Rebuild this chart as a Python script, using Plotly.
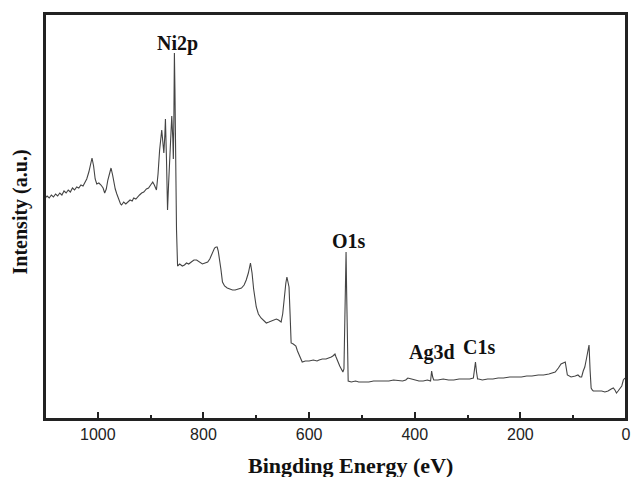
import plotly.graph_objects as go

energy = [1100,1096,1092,1088,1084,1080,1076,1072,1068,1064,1060,1056,1052,1048,1044,1040,1036,1032,1028,1025,
          1021,1017,1014,1011,1008,1005,1002,998,994,990,987,984,981,978,975,972,970,967,964,960,957,955,
          951,947,943,939,935,932,928,924,921,917,913,908,904,900,896,893,889,886,883,879,877,875,873,872,
          870,868,866,864,862,860,858,857,856,855,854,853,851,849,
          845,840,836,832,828,823,818,813,808,802,797,792,788,785,781,779,776,774,772,770,767,764,760,755,
          750,745,740,735,728,723,719,715,711,708,705,700,696,691,686,681,676,672,667,662,658,653,650,647,
          644,642,640,638,636,634,630,625,622,619,616,613,607,600,592,585,581,575,568,562,558,555,551,549,
          547,544,542,539,536,534,532,530,529,528,527,526,520,512,506,498,487,478,468,459,449,440,430,423,
          417,413,406,399,392,384,376,370,368,366,364,356,346,336,326,316,304,296,289,287,285,283,281,279,
          272,262,252,242,232,220,210,198,188,178,166,156,146,134,128,123,119,115,111,108,104,96,91,87,84,
          81,78,75,72,70,68,66,64,62,58,53,46,40,34,28,24,21,18,15,11,8,5,2,0]
intensity = [221,223,221,224,222,225,223,226,224,228,226,229,227,231,229,232,231,234,233,236,
             240,247,255,261,253,240,235,236,234,231,226,230,239,246,251,244,237,230,225,219,215,214,
             217,215,217,219,218,221,220,223,224,226,227,230,231,234,237,234,229,245,269,289,275,266,285,300,
             260,209,235,259,285,303,280,260,300,366,330,269,189,153,
             155,153,154,156,155,157,159,159,157,155,156,157,160,164,169,171,172,172,168,162,150,137,133,131,
             130,129,129,130,131,134,139,146,156,146,130,112,105,101,98,96,97,98,99,100,99,97,105,122,
             136,142,138,132,105,76,75,73,68,64,60,57,58,58,59,58,59,60,60,61,62,63,65,62,
             59,56,53,50,47,50,109,167,130,89,55,38,37,38,37,37,37,38,38,38,38,39,38,38,
             39,41,40,39,38,38,39,38,48,42,39,39,40,39,39,40,40,40,41,47,57,47,40,
             40,39,40,40,41,41,42,42,42,43,43,44,44,45,47,51,55,56,57,44,43,42,43,44,42,
             42,48,52,60,69,74,49,31,29,28,28,28,28,27,28,30,31,29,26,28,31,33,39,41]

tick_values = [1000, 800, 600, 400, 200, 0]
tick_labels = ["1000", "800", "600", "400", "200", "0"]

peak_labels = ["Ni2p", "O1s", "Ag3d", "C1s"]
label_x = [850, 524, 368, 278]
label_y = [376, 178, 67, 72]

fig = go.Figure()
fig.add_trace(go.Scatter(x=energy, y=intensity, mode="lines",
                         line=dict(color="#444444", width=1.1), showlegend=False,
                         hoverinfo="skip", cliponaxis=True))

for t, xx, yy in zip(peak_labels, label_x, label_y):
    fig.add_annotation(x=xx, y=yy, text="<b>" + t + "</b>", showarrow=False,
                       font=dict(family="Liberation Serif", size=20, color="#111"),
                       xanchor="center", yanchor="middle")

fig.add_annotation(xref="paper", yref="paper", x=0.525, y=-0.115, text="<b>Bingding Energy (eV)</b>",
                   showarrow=False, font=dict(family="Liberation Serif", size=22, color="#111"),
                   xanchor="center", yanchor="middle")
fig.add_annotation(xref="paper", yref="paper", x=-0.043, y=0.51, text="<b>Intensity (a.u.)</b>",
                   showarrow=False, textangle=-90,
                   font=dict(family="Liberation Serif", size=20, color="#111"),
                   xanchor="center", yanchor="middle")

fig.add_shape(type="rect", xref="paper", yref="paper", x0=0, y0=0, x1=1, y1=1,
              line=dict(color="#222", width=2), layer="above")

fig.update_layout(
    width=631, height=477,
    margin=dict(l=45, r=3, t=14, b=58),
    plot_bgcolor="white", paper_bgcolor="white",
    font=dict(family="Liberation Sans", size=16, color="#222"),
)
fig.update_xaxes(range=[1100, 0], showline=True, mirror=True, linewidth=2, linecolor="#222",
                 ticks="inside", ticklen=7, tickwidth=1.5, tickcolor="#222",
                 tickmode="array", tickvals=tick_values, ticktext=tick_labels,
                 minor=dict(ticks="inside", ticklen=4, tickwidth=1.5, tickcolor="#222", dtick=100, tick0=0),
                 showgrid=False, zeroline=False, automargin=False,
                 tickfont=dict(family="Liberation Sans", size=16, color="#222"))
fig.update_yaxes(range=[0, 405], showline=True, mirror=True, linewidth=2, linecolor="#222",
                 showticklabels=False, ticks="", showgrid=False, zeroline=False)

fig.write_html("out.html", config={"displayModeBar": False},
               post_script="document.body.style.margin='0';document.body.style.overflow='hidden';")
